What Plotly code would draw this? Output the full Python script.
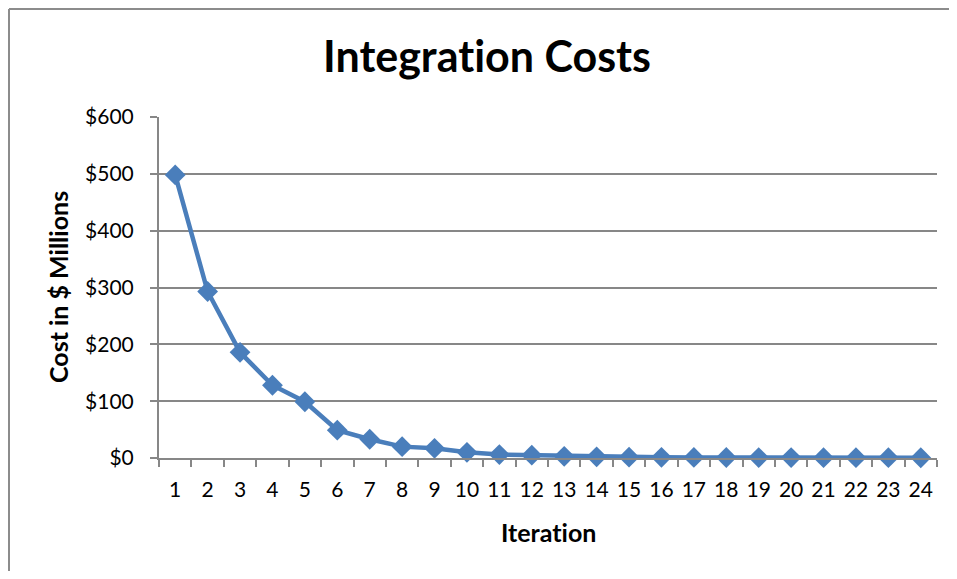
import plotly.graph_objects as go

iterations = [str(i) for i in range(1, 25)]
costs = [498, 293, 186, 128, 99, 49, 33, 20, 17, 10, 6, 5, 3, 2, 1.5, 1.2, 1, 0.9, 0.8, 0.7, 0.6, 0.5, 0.5, 0.4]
y_ticks = [0, 100, 200, 300, 400, 500, 600]
y_tick_labels = ["$" + str(v) for v in y_ticks]

FONT = "Lato"
GRID = "#878787"
BLUE = "#4A7EBB"
ZW = "\u200c"  # break 'ti' ligature

OFF = 8  # page body margin
W, H = 957 - 2 * OFF, 579 - 2 * OFF
# plot area in page pixels: x 159..937, y 117..458
L = 159 - OFF
T = 117 - OFF
R = W - (937 - OFF)
B = H - (458 - OFF)
pw, ph = W - L - R, H - T - B

def px_x(px):
    return (px - OFF - L) / pw

def px_y(py):
    return (H - B - (py - OFF)) / ph

fig = go.Figure()
fig.add_trace(go.Scatter(
    x=iterations, y=costs, mode="lines+markers",
    line=dict(color=BLUE, width=4.5),
    marker=dict(symbol="diamond", size=16, color=BLUE),
    showlegend=False, cliponaxis=False,
))

BORDER = dict(color="#8c8c8c", width=2)

fig.update_layout(
    width=W, height=H,
    margin=dict(l=L, r=R, t=T, b=B),
    paper_bgcolor="white", plot_bgcolor="white",
    font=dict(family=FONT, color="black"),
    title=dict(text="<b>Integra" + "t" + ZW + "ion Costs</b>", font=dict(size=43, family=FONT, color="black"),
               x=(487 - OFF) / W, xref="container", y=1 - (57 - OFF) / H, yref="container",
               xanchor="center", yanchor="middle"),
    xaxis=dict(type="category", range=[-0.5, 23.5], showgrid=False,
               showline=True, linecolor=GRID, linewidth=2,
               ticks="outside", tickson="boundaries", ticklen=7, tickcolor=GRID, tickwidth=2,
               ticklabelstandoff=12, tickangle=0,
               tickfont=dict(size=21, family=FONT, color="black"), zeroline=False),
    yaxis=dict(range=[0, 600], tickvals=y_ticks, ticktext=y_tick_labels,
               showgrid=True, gridcolor=GRID, gridwidth=1.5,
               showline=True, linecolor=GRID, linewidth=2,
               ticks="outside", ticklen=7, tickcolor=GRID, tickwidth=2,
               ticklabelstandoff=12,
               tickfont=dict(size=21, family=FONT, color="black"), zeroline=False),
    annotations=[
        dict(text="<b>Cost in $ Millions</b>", xref="paper", yref="paper",
             x=px_x(58), y=px_y(287), textangle=-90, showarrow=False,
             font=dict(size=25, family=FONT, color="black"),
             xanchor="center", yanchor="middle"),
        dict(text="<b>Itera" + "t" + ZW + "ion</b>", xref="paper", yref="paper",
             x=px_x(548), y=px_y(532), showarrow=False,
             font=dict(size=25, family=FONT, color="black"),
             xanchor="center", yanchor="middle"),
    ],
    shapes=[
        dict(type="line", xref="paper", yref="paper",
             x0=px_x(OFF + 1), x1=px_x(1100), y0=px_y(OFF + 1), y1=px_y(OFF + 1),
             line=BORDER, layer="below"),
        dict(type="line", xref="paper", yref="paper",
             x0=px_x(OFF + 1), x1=px_x(OFF + 1), y0=px_y(OFF + 1), y1=px_y(700),
             line=BORDER, layer="below"),
    ],
)

fig.write_html("out.html")
